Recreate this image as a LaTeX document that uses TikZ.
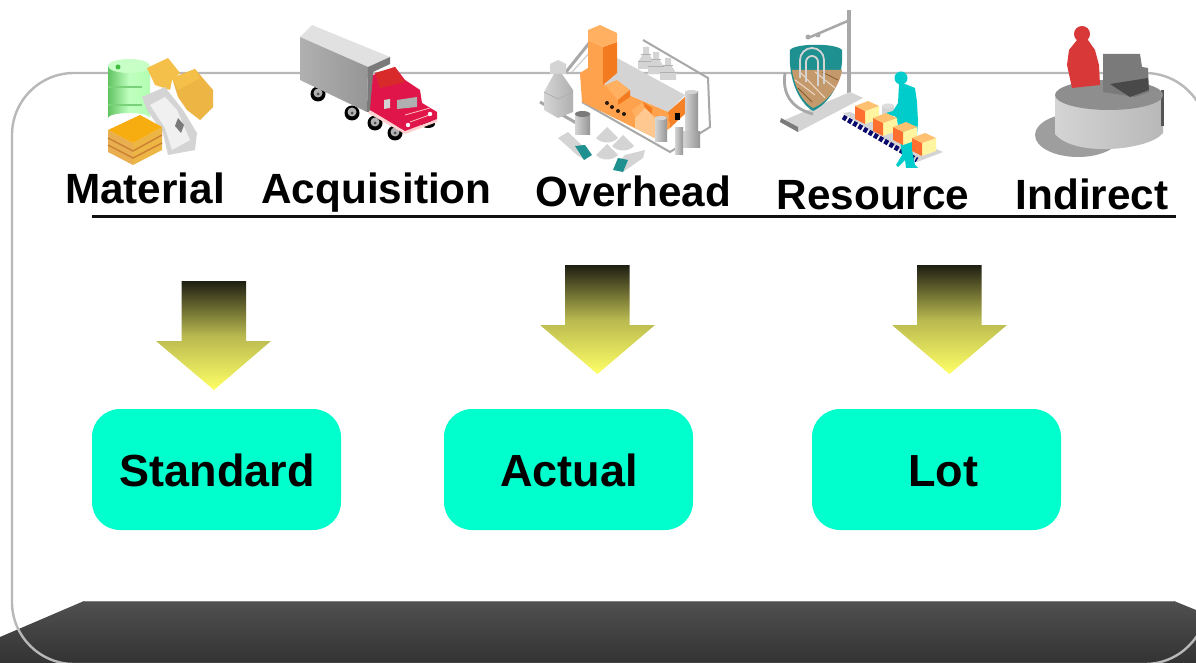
\documentclass[tikz,border=0pt]{standalone}
\usepackage{fontspec}
\setmainfont{Liberation Sans}
\usetikzlibrary{shapes.geometric}
\definecolor{boxteal}{HTML}{00FFCC}
\definecolor{framegray}{HTML}{B8B8B8}
\definecolor{barlow}{HTML}{333333}
\definecolor{barhigh}{HTML}{505050}
\definecolor{ruleblack}{HTML}{111111}
\definecolor{arrowdark}{HTML}{1E1E12}
\definecolor{arrowmid}{HTML}{B8B850}
\definecolor{arrowlight}{HTML}{FFFF66}
\definecolor{pipegray}{HTML}{A8A8A8}
\definecolor{lgray}{HTML}{D4D4D4}
\definecolor{mgray}{HTML}{B0B0B0}
\definecolor{dgray}{HTML}{7A7A7A}
\definecolor{oa}{HTML}{FFA24D}
\definecolor{ob}{HTML}{F47A1F}
\definecolor{oc}{HTML}{FFB060}
\definecolor{yella}{HTML}{F5C04A}
\definecolor{yellb}{HTML}{EDB544}
\definecolor{crate}{HTML}{E8AE50}
\definecolor{cratetop}{HTML}{F7AC10}
\definecolor{truckred}{HTML}{E0154A}
\definecolor{truckdark}{HTML}{D82A2A}
\definecolor{cyanman}{HTML}{00CCCC}
\definecolor{tealv}{HTML}{1F9090}
\definecolor{brownv}{HTML}{C49A6C}
\definecolor{navybelt}{HTML}{0A0A6E}
\definecolor{boxtop}{HTML}{FFC070}
\definecolor{boxside}{HTML}{FF7030}
\definecolor{boxfront}{HTML}{FFF5A0}
\definecolor{redman}{HTML}{D83838}
\tikzset{
  x=1pt,y=-1pt,
  heading/.style={font=\fontsize{42.3}{42.3}\selectfont\bfseries,text=black,inner sep=0pt,anchor=base},
  costbox/.style={fill=boxteal,rounded corners=28pt,minimum width=249pt,minimum height=121pt,inner sep=0pt,text=black},
  boxtext/.style={font=\fontsize{45}{45}\selectfont\bfseries,text=black,inner sep=0pt,anchor=base},
  downarrow/.style={top color=arrowdark,bottom color=arrowlight,middle color=arrowmid,draw=none},
  pipe/.style={draw=pipegray,line width=2pt,fill=none},
}
\newcommand{\downarr}[6]{\shade[downarrow] (#1,#2) -- (#1+64.5,#2) -- (#1+64.5,#3) -- (#4+115,#3) -- (#5,#6) -- (#4,#3) -- (#1,#3) -- cycle;}
\newcommand{\parcel}[2]{%
  \begin{scope}[shift={(#1,#2)}]
    \fill[boxfront] (10,6) -- (24,1) -- (24,14) -- (10,19) -- cycle;
    \fill[boxside] (0,1) -- (10,6) -- (10,19) -- (0,14) -- cycle;
    \fill[boxtop] (0,1) -- (13,-4) -- (24,1) -- (10,6) -- cycle;
  \end{scope}}
\newcommand{\cyl}[4]{\shade[left color=lgray,right color=dgray!80!white] (#1,#3) rectangle (#2,#4);}
\begin{document}
\begin{tikzpicture}
\useasboundingbox (0,0) rectangle (1196,663);
\clip (0,0) rectangle (1196,663);
\fill[white] (0,0) rectangle (1196,663);
% dark bar
\shade[top color=barhigh,bottom color=barlow] (0,637) -- (84,601) -- (1174,601) -- (1196,610) -- (1196,663) -- (0,663) -- cycle;
\draw[draw=gray,line width=1pt] (84,601) -- (1174,601);
% frame
\draw[framegray,line width=2.4pt,rounded corners=62pt] (12,73) rectangle (1207,664);
% rule
\draw[ruleblack,line width=2.6pt] (92,216.5) -- (1176,216.5);

% ---- material icon
\shade[left color=green!45!gray!85,right color=green!30!white,middle color=green!25!white] (108,66) -- (150,66) -- (150,118) arc[start angle=0,end angle=180,x radius=21pt,y radius=5pt] -- cycle;
\fill[green!50!gray!70!white] (108,86) rectangle (142,88);
\fill[green!50!gray!70!white] (108,104) rectangle (142,106);
\fill[green!22!white] (129,66) ellipse [x radius=21pt,y radius=7pt];
\fill[green!50!gray] (118,67) circle [radius=2.5pt];
\fill[yella] (147,68) -- (168,58) -- (180,73) -- (172,80) -- (170,90) -- (155,85) -- cycle;
\fill[yellb] (172,78) -- (195,69) -- (213,90) -- (213,107) -- (200,120) -- (187,110) -- (178,97) -- cycle;
\fill[yella] (172,78) -- (195,69) -- (200,78) -- (178,90) -- cycle;
\fill[lgray] (142,97) -- (165,87) -- (183,110) -- (197,133) -- (195,150) -- (168,155) -- (163,133) -- (147,110) -- cycle;
\fill[white!88!gray] (165,97) -- (177,110) -- (190,140) -- (172,150) -- (165,128) -- (150,105) -- cycle;
\fill[dgray] (178,118) -- (184,125) -- (181,133) -- (175,126) -- cycle;
\fill[crate] (108,130) -- (133,143) -- (133,165) -- (108,152) -- cycle;
\fill[yellb] (133,143) -- (162,127) -- (162,150) -- (133,165) -- cycle;
\fill[cratetop] (108,130) -- (140,115) -- (162,127) -- (133,143) -- cycle;
\draw[brown!80!orange,line width=1.4pt] (108,138) -- (133,151) -- (162,135) (108,145) -- (133,158) -- (162,143);

% ---- truck
\foreach \wx/\wy in {318/94,352/113,375/123,395/133}{
  \fill[black] (\wx,\wy) circle [radius=7.5pt];
  \fill[mgray] (\wx,\wy-1) circle [radius=4.5pt];
  \fill[dgray!60!black] (\wx,\wy) circle [radius=1.5pt];
}
\fill[black] (428,124) ellipse [x radius=7pt,y radius=4pt];
\fill[lgray!70!white] (300,37) -- (312,25) -- (390,57) -- (368,67) -- cycle;
\shade[left color=mgray,right color=mgray!85!black] (300,37) -- (368,67) -- (367,112) -- (300,80) -- cycle;
\fill[dgray] (368,67) -- (390,57) -- (390,64) -- (373,72) -- (372,112) -- (367,112) -- cycle;
\fill[pink!70!white] (370,110) -- (405,131) -- (437,119) -- (437,122) -- (405,134) -- (368,113) -- cycle;
\fill[truckred] (373,75) -- (395,67) -- (405,80) -- (420,90) -- (422,103) -- (437,112) -- (437,119) -- (405,131) -- (370,110) -- cycle;
\fill[truckdark] (375,73) -- (395,67) -- (405,82) -- (380,88) -- cycle;
\fill[mgray] (397,100) -- (417,97) -- (417,107) -- (397,109) -- cycle;
\fill[lgray] (384,100) -- (390,99) -- (390,108) -- (384,109) -- cycle;
\draw[pink,line width=.8pt] (405,115) -- (430,108) (410,122) -- (432,114);
\fill[white] (408,125) circle [radius=2.2pt];
\fill[white] (430,114) circle [radius=2.2pt];

% ---- factory
\draw[pipe] (643,40) -- (708,78) -- (710,127) -- (670,152) -- (582,102);
\draw[pipegray,line width=3pt] (566,72) -- (590,42);
\draw[lgray,line width=1.5pt] (572,72) -- (592,50);
\foreach \tx/\ty in {646/47,656/52,668/58}{
  \fill[lgray] (\tx-3,\ty) -- (\tx+3,\ty) -- (\tx+3,\ty+7) -- (\tx+8,\ty+15) -- (\tx+8,\ty+22) -- (\tx-8,\ty+22) -- (\tx-8,\ty+15) -- (\tx-3,\ty+7) -- cycle;
  \draw[mgray,line width=1pt] (\tx-8,\ty+15) -- (\tx+8,\ty+15) (\tx-5,\ty+8) -- (\tx+5,\ty+8);
}
% left tank
\draw[pipegray,line width=3pt] (540,102) -- (578,124);
\fill[lgray] (550,64) -- (558,60) -- (566,64) -- (566,74) -- (550,74) -- cycle;
\shade[left color=lgray,right color=mgray] (544,92) -- (554,74) -- (562,74) -- (573,90) -- (573,112) -- (558,118) -- (544,110) -- cycle;
\draw[mgray,line width=.8pt] (544,92) -- (558,99) -- (573,92);
% building
\fill[lgray] (617,58) -- (685,95) -- (668,112) -- (605,85) -- cycle;
\fill[oa] (580,73) -- (588,68) -- (605,85) -- (668,112) -- (670,128) -- (655,138) -- (582,102) -- cycle;
\fill[oa] (588,40) -- (603,47) -- (603,85) -- (588,75) -- cycle;
\fill[ob] (603,47) -- (617,42) -- (617,73) -- (603,85) -- cycle;
\fill[oc] (588,30) -- (600,25) -- (617,33) -- (617,42) -- (603,47) -- (588,40) -- cycle;
\fill[oc] (605,85) -- (617,80) -- (630,90) -- (618,100) -- cycle;
\fill[ob] (618,100) -- (630,90) -- (630,97) -- (618,105) -- cycle;
\fill[oc] (632,110) -- (643,102) -- (645,108) -- (635,118) -- cycle;
\fill[ob] (643,102) -- (652,108) -- (652,114) -- (645,108) -- cycle;
\fill[oc!70!white] (635,118) -- (645,108) -- (655,118) -- (655,138) -- (635,128) -- cycle;
\foreach \dx/\dy in {607/103,612/107,618/111,624/114}{\fill[black!80!brown] (\dx,\dy) circle [radius=2pt];}
\fill[ob!80!oa] (668,112) -- (685,97) -- (687,112) -- (670,128) -- cycle;
\fill[black] (675,113) rectangle (680,120);
\cyl{655}{667}{118}{142}
\fill[lgray] (661,118) ellipse [x radius=6pt,y radius=2pt];
\cyl{685}{698}{92}{148}
\cyl{683}{700}{132}{148}
\fill[lgray] (691.5,92) ellipse [x radius=6.5pt,y radius=2pt];
\cyl{675}{683}{128}{155}
\cyl{575}{590}{114}{135}
\fill[dgray] (582.5,114) ellipse [x radius=7.5pt,y radius=3pt];
\foreach \px/\py in {607/135,623/143,607/152}{\fill[lgray] (\px-11,\py+3) -- (\px,\py-8) -- (\px+11,\py+3) .. controls (\px+5,\py+9) and (\px-5,\py+9) .. (\px-11,\py+3) -- cycle;}
\fill[lgray] (558,138) -- (568,132) -- (590,153) -- (585,160) -- (577,155) -- cycle;
\fill[tealv] (575,146) -- (585,145) -- (592,155) -- (584,160) -- cycle;
\fill[lgray] (625,155) -- (645,150) -- (643,158) -- (623,172) -- (615,165) -- cycle;
\fill[tealv] (613,170) -- (618,158) -- (628,160) -- (623,172) -- cycle;

% ---- resource
\draw[pipegray,line width=3.5pt] (849,10) -- (849,97);
\draw[pipegray,line width=2.5pt] (850,20) -- (808,38);
\fill[pipegray] (808,37) circle [radius=2.5pt];
\fill[pipegray] (818,35) circle [radius=2.5pt];
\fill[lgray] (780,122) -- (850,92) -- (863,98) -- (798,132) -- cycle;
\fill[dgray] (780,122) -- (798,132) -- (798,127) -- (781,118) -- cycle;
\draw[pipegray,line width=2.8pt] (785,73) .. controls (782,92) and (790,108) .. (813,114);
\fill[tealv] (790,50) .. controls (795,43) and (837,43) .. (842,50) .. controls (844,78) and (832,102) .. (813,111) .. controls (798,102) and (788,78) .. (790,50) -- cycle;
\fill[brownv] (792,70) -- (842,70) .. controls (840,85) and (828,102) .. (813,108) .. controls (802,102) and (794,85) .. (792,70) -- cycle;
\draw[white!70!brown,line width=1pt] (795,80) -- (815,95) (800,72) -- (825,98) (815,72) -- (835,88);
\draw[brown!70!black,line width=.8pt] (798,88) -- (812,102) (822,72) -- (838,80);
\draw[lgray,line width=1.8pt] (800,78) -- (800,60) arc[start angle=180,end angle=0,x radius=12pt,y radius=12pt] -- (824,84) (806,82) -- (806,62) arc[start angle=180,end angle=0,x radius=6pt,y radius=6pt] -- (818,86);
\fill[lgray] (843,113) -- (850,112) -- (943,152) -- (917,162) -- cycle;
\draw[navybelt,line width=5pt,dash pattern=on 4pt off 2pt] (843,117) -- (917,160);
\parcel{855}{105}
\fill[lgray] (882,106) rectangle (894,116);
\fill[lgray!80!white] (888,106) ellipse [x radius=6pt,y radius=2.5pt];
\fill[cyanman] (901,78) circle [radius=6.5pt];
\fill[cyanman] (899,84) -- (905,84) -- (915,88) -- (917,102) -- (918,122) -- (917,135) -- (912,150) -- (915,165) -- (918,168) -- (906,168) -- (905,160) -- (898,167) -- (896,165) -- (902,155) -- (900,138) -- (897,120) -- (895,116) -- (886,115) -- (886,113) -- (893,111) -- (898,103) -- cycle;
\parcel{873}{117}
\parcel{893}{126}
\parcel{912}{137}

% ---- indirect
\fill[mgray!90!black] (1078,135) ellipse [x radius=43pt,y radius=22pt];
\shade[left color=lgray,right color=mgray!90!white] (1055,95) -- (1163,95) -- (1163,133) .. controls (1150,150) and (1075,158) .. (1055,134) -- cycle;
\fill[dgray!70!black] (1161,90) rectangle (1164,126);
\fill[dgray!85!white] (1109,95) ellipse [x radius=54pt,y radius=15pt];
\fill[redman] (1082,34) circle [radius=8pt];
\fill[redman] (1077,40) -- (1088,40) -- (1095,50) -- (1099,65) -- (1100,85) -- (1072,88) -- (1067,65) -- (1069,50) -- cycle;
\fill[dgray] (1103,54) -- (1140,54) -- (1142,67) -- (1148,68) -- (1149,92) -- (1135,97) -- (1103,92) -- cycle;
\fill[dgray!60!black] (1110,84) -- (1148,78) -- (1149,90) -- (1130,97) -- cycle;

% ---- labels
\node[heading] (material) at (145,204) {Material};
\node[heading] (acquisition) at (376.5,204) {Acquisition};
\node[heading] (overhead) at (633.5,207) {Overhead};
\node[heading] (resource) at (873,209) {Resource};
\node[heading] (indirect) at (1092,209) {Indirect};

% ---- arrows
\downarr{181.5}{281}{341}{156}{214}{390}
\downarr{565}{265}{325}{540}{597.5}{374}
\downarr{917}{265}{325}{892}{949.5}{374}

% ---- boxes
\node[costbox] (standard) at (216.5,469.5) {};
\node[costbox] (actual) at (568.5,469.5) {};
\node[costbox] (lot) at (936.5,469.5) {};
\node[boxtext] (standardtext) at (217,486) {Standard};
\node[boxtext] (actualtext) at (569,486) {Actual};
\node[boxtext] (lottext) at (943,486) {Lot};
\end{tikzpicture}
\end{document}
